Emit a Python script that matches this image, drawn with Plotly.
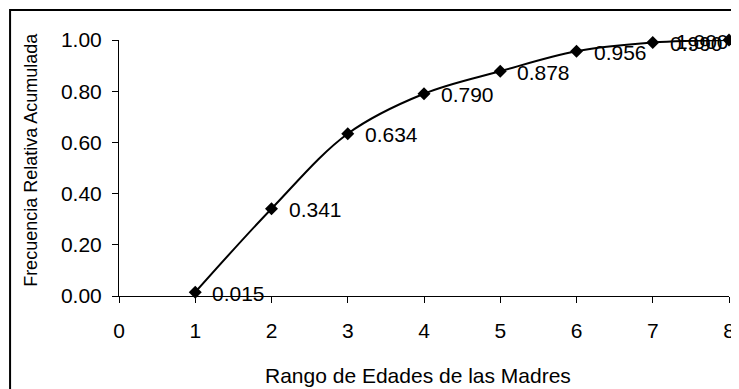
import plotly.graph_objects as go

x_vals = [1, 2, 3, 4, 5, 6, 7, 8]
y_vals = [0.015, 0.341, 0.634, 0.790, 0.878, 0.956, 0.990, 1.000]
labels = ["0.015", "0.341", "0.634", "0.790", "0.878", "0.956", "0.990", "1.000"]
x_ticks = [0, 1, 2, 3, 4, 5, 6, 7, 8]
y_ticks = [0.0, 0.2, 0.4, 0.6, 0.8, 1.0]
x_title = "Rango de Edades de las Madres"
y_title = "Frecuencia Relativa Acumulada"

FONT = "Liberation Sans, Arial, sans-serif"
W, H = 739, 389
ML, MR, MT, MB = 111, 12, 32, 101
pw = W - ML - MR
ph = H - MT - MB

fig = go.Figure()
fig.add_trace(go.Scatter(
    x=x_vals, y=y_vals,
    mode="lines+markers",
    line=dict(color="black", width=2, shape="spline", smoothing=1.0),
    marker=dict(symbol="diamond", size=10, color="black"),
    cliponaxis=False,
    showlegend=False,
    hoverinfo="skip",
))

annotations = []
n = len(x_vals)
for i, (xv, yv, lab) in enumerate(zip(x_vals, y_vals, labels)):
    last = i == n - 1
    annotations.append(dict(
        x=xv, y=yv, xref="x", yref="y", text=lab, showarrow=False,
        xanchor="right" if last else "left", yanchor="middle",
        xshift=2 if last else 15, yshift=-1,
        font=dict(family=FONT, size=21, color="black"),
    ))

annotations.append(dict(
    text=x_title, xref="paper", yref="paper",
    x=(413 - ML) / pw, y=-(367 - (MT + ph)) / ph, xanchor="center", yanchor="middle",
    showarrow=False, font=dict(family=FONT, size=21, color="black")))
annotations.append(dict(
    text=y_title, xref="paper", yref="paper",
    x=(22 - ML) / pw, y=(MT + ph - 152) / ph, xanchor="center", yanchor="middle",
    textangle=-90, showarrow=False, font=dict(family=FONT, size=18, color="black")))

fig.update_layout(
    width=W, height=H,
    margin=dict(l=ML, r=MR, t=MT, b=MB),
    paper_bgcolor="white", plot_bgcolor="white",
    font=dict(family=FONT, size=21, color="black"),
    xaxis=dict(
        range=[0, 8], tickvals=x_ticks, ticktext=[str(v) for v in x_ticks],
        showgrid=False, zeroline=False, showline=True, linecolor="black", linewidth=1,
        ticks="outside", ticklen=6, tickcolor="black", ticklabelstandoff=10,
        tickfont=dict(family=FONT, size=21, color="black"),
    ),
    yaxis=dict(
        range=[0, 1], tickvals=y_ticks, ticktext=[f"{v:.2f}" for v in y_ticks],
        showgrid=False, zeroline=False, showline=True, linecolor="black", linewidth=1,
        ticks="outside", ticklen=6, tickcolor="black", ticklabelstandoff=6,
        tickfont=dict(family=FONT, size=21, color="black"),
    ),
    annotations=annotations,
    shapes=[
        dict(type="rect", xref="paper", yref="paper",
             x0=(1 - ML) / pw, x1=(W + 20 - ML) / pw,
             y0=(MT + ph - (H + 20)) / ph, y1=(MT + ph - 2) / ph,
             line=dict(color="black", width=2), fillcolor="rgba(0,0,0,0)", layer="below"),
    ],
)

fig.write_html("out.html")
